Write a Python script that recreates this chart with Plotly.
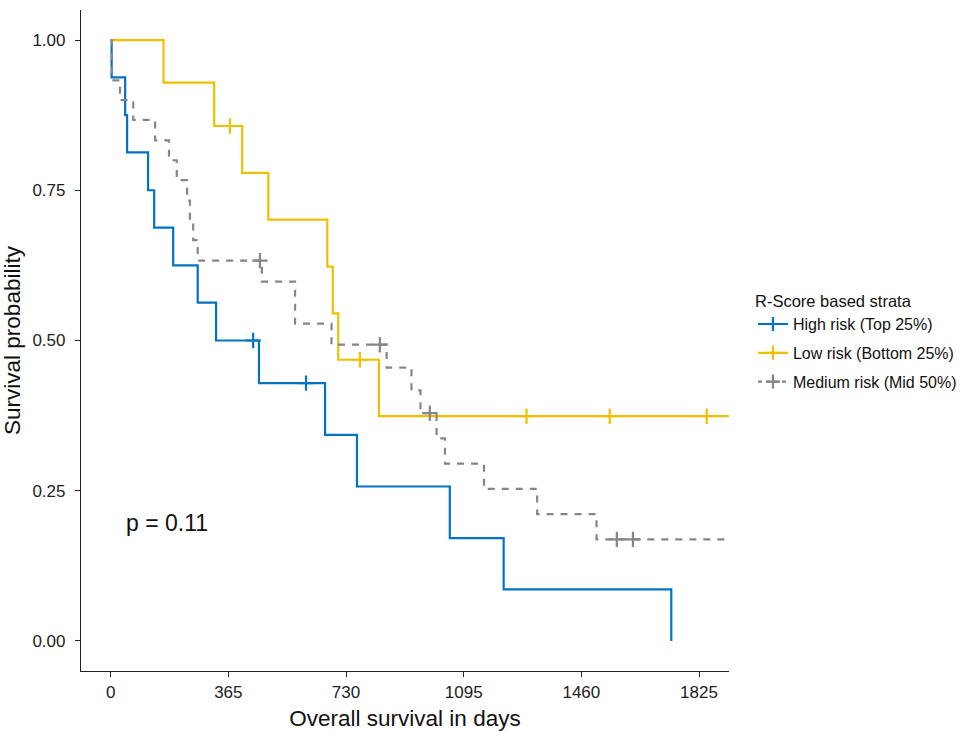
import plotly.graph_objects as go

# ---------------- data ----------------
strata = ["High risk (Top 25%)", "Low risk (Bottom 25%)", "Medium risk (Mid 50%)"]

high_time = [0, 3, 45, 51, 116, 135, 194, 270, 327, 460, 665, 764, 1052, 1219, 1739]
high_surv = [1.0, 0.938, 0.875, 0.813, 0.750, 0.688, 0.625, 0.563, 0.500, 0.429, 0.343, 0.257, 0.171, 0.086, 0.0]
high_cens_time = [442, 606]
high_cens_surv = [0.500, 0.429]

low_time = [0, 164, 321, 408, 489, 672, 689, 706, 832, 1950]
low_surv = [1.0, 0.929, 0.857, 0.779, 0.701, 0.623, 0.545, 0.468, 0.374, 0.374]
low_cens_time = [370, 773, 1290, 1548, 1849]
low_cens_surv = [0.857, 0.468, 0.374, 0.374, 0.374]

med_time = [0, 4, 29, 70, 138, 181, 205, 237, 246, 256, 270, 469, 572, 685,
            856, 933, 961, 1011, 1037, 1158, 1323, 1507, 1950]
med_surv = [1.0, 0.933, 0.900, 0.867, 0.833, 0.800, 0.767, 0.733, 0.700, 0.667, 0.633,
            0.598, 0.528, 0.493, 0.455, 0.417, 0.379, 0.337, 0.295, 0.253, 0.211, 0.169, 0.169]
med_cens_time = [463, 835, 990, 1570, 1620]
med_cens_surv = [0.633, 0.493, 0.379, 0.169, 0.169]

x_ticks = [0, 365, 730, 1095, 1460, 1825]
y_ticks = [0.0, 0.25, 0.50, 0.75, 1.00]
p_label = "p = 0.11"
legend_title = "R-Score based strata"

colors = ["#0073C2", "#EFC000", "#868686"]
dashes = ["solid", "solid", "7px,7px"]

series = [
    (high_time, high_surv, high_cens_time, high_cens_surv),
    (low_time, low_surv, low_cens_time, low_cens_surv),
    (med_time, med_surv, med_cens_time, med_cens_surv),
]

FONT = "Liberation Sans, Arial, sans-serif"

fig = go.Figure()
for i, (t, s, ct, cs) in enumerate(series):
    fig.add_trace(go.Scatter(
        x=t, y=s, mode="lines", line=dict(color=colors[i], width=2.2, dash=dashes[i], shape="hv"),
        showlegend=False, legendgroup=strata[i], hoverinfo="skip"))
    fig.add_trace(go.Scatter(
        x=ct, y=cs, mode="markers",
        marker=dict(symbol="cross-thin", size=11, line=dict(color=colors[i], width=2.2)),
        showlegend=False, legendgroup=strata[i]))
for i in range(3):
    fig.add_trace(go.Scatter(
        x=[None], y=[None], mode="lines+markers", name=strata[i], legendgroup=strata[i],
        line=dict(color=colors[i], width=2.2, dash=("solid" if i < 2 else "4px,4px")),
        marker=dict(symbol="cross-thin", size=10, line=dict(color=colors[i], width=2.2))))

fig.add_annotation(x=0.067, y=0.224, xref="paper", yref="paper", text=p_label,
                   showarrow=False, xanchor="left", yanchor="middle",
                   font=dict(family=FONT, size=23, color="#111"))

fig.update_layout(
    width=964, height=731,
    margin=dict(l=81, r=235, t=10, b=60, autoexpand=False),
    paper_bgcolor="white", plot_bgcolor="white",
    font=dict(family=FONT, color="#222"),
    legend=dict(
        title=dict(text=legend_title, font=dict(family=FONT, size=16.5, color="#111")),
        font=dict(family=FONT, size=16, color="#111"),
        x=1.037, xanchor="left", y=0.583, yanchor="top",
        traceorder="grouped", tracegroupgap=5, bgcolor="rgba(0,0,0,0)",
    ),
    xaxis=dict(
        range=[-92, 1918], tickvals=x_ticks, ticktext=[str(v) for v in x_ticks],
        showgrid=False, zeroline=False, showline=True, linecolor="#222", linewidth=1.2,
        ticks="outside", ticklen=5, tickcolor="#222", tickwidth=1.2, automargin=False,
        tickfont=dict(family=FONT, size=17, color="#222"),
        title=dict(text="Overall survival in days", font=dict(family=FONT, size=22.5, color="#111"), standoff=9),
    ),
    yaxis=dict(
        range=[-0.05, 1.05], tickvals=y_ticks, tickformat=".2f",
        showgrid=False, zeroline=False, showline=True, linecolor="#222", linewidth=1.2,
        ticks="outside", ticklen=5, tickcolor="#222", tickwidth=1.2, automargin=False,
        ticklabelstandoff=6,
        tickfont=dict(family=FONT, size=17, color="#222"),
        title=dict(text="Survival probability", font=dict(family=FONT, size=22.5, color="#111"), standoff=5),
    ),
)

fig.write_html("out.html", config={"displayModeBar": False},
               post_script="document.body.style.margin='0';")
